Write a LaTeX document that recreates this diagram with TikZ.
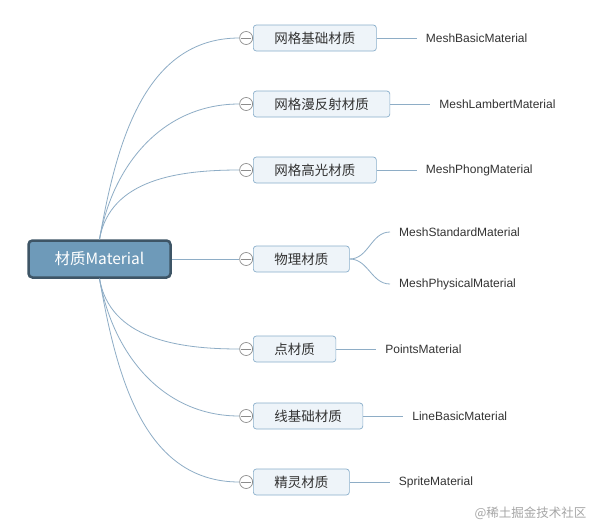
\documentclass[tikz,border=0pt]{standalone}
\usepackage{fontspec}
\setmainfont{Liberation Sans}
\newfontfamily\cjk{Noto Sans CJK SC}
\usepackage{tikz}
\usetikzlibrary{positioning}
\definecolor{mroot}{HTML}{6E9AB9}
\definecolor{mrootline}{HTML}{3E5566}
\definecolor{mbox}{HTML}{EEF4F9}
\definecolor{mboxline}{HTML}{8AAFCB}
\definecolor{mline}{HTML}{8EADC6}
\definecolor{mfold}{HTML}{8C8C8C}
\definecolor{mtext}{HTML}{333333}
\tikzset{
  rootbox/.style={draw=mrootline, fill=mroot, line width=2.5pt, rounded corners=4pt,
                  text=white, font=\cjk\fontsize{15.5}{18}\selectfont,
                  minimum width=142pt, minimum height=37pt},
  matbox/.style={draw=mboxline, fill=mbox, rounded corners=3pt, line width=0.7pt,
                 text=mtext, font=\cjk\fontsize{13.5}{16}\selectfont,
                 minimum height=26pt, inner xsep=21pt, inner ysep=0pt, anchor=west},
  fold/.style={circle, draw=mfold, fill=white, minimum size=13pt, inner sep=0pt, line width=0.7pt,
               path picture={\draw[mfold, line width=0.7pt]
                 ([xshift=1.5pt]path picture bounding box.west) --
                 ([xshift=-1.5pt]path picture bounding box.east);}},
  leaf/.style={anchor=west, inner xsep=9pt, inner ysep=1pt, text=mtext,
               font=\fontsize{12}{14}\selectfont},
  link/.style={mline, line width=0.8pt},
}
\begin{document}
\begin{tikzpicture}[x=1pt, y=1pt]

  %% Canvas
  \fill[white] (0,0) rectangle (590,-523);
  \useasboundingbox (0,0) rectangle (590,-523);

  %% Root
  \node[rootbox] (root) at (99.5,-259) {材质Material};

  %% Materials with fold circles
  \foreach \i/\y/\t in {1/38/网格基础材质, 2/104/网格漫反射材质, 3/170/网格高光材质,
                        4/259/物理材质, 5/349/点材质, 6/416/线基础材质, 7/482/精灵材质}{
    \node[matbox] (b\i) at (253,-\y) {\t};
    \node[fold, left=0pt of b\i] (c\i) {};
  }

  %% Root -> materials
  \foreach \i in {1,2,3}{
    \draw[link] (root.north) to[out=80, in=180] (c\i.west);
  }
  \draw[link] (root.east) -- (c4.west);
  \foreach \i in {5,6,7}{
    \draw[link] (root.south) to[out=-80, in=180] (c\i.west);
  }

  %% Three.js class names
  \node[leaf, right=40pt of b1] (l1) {MeshBasicMaterial};
  \node[leaf, right=40pt of b2] (l2) {MeshLambertMaterial};
  \node[leaf, right=40pt of b3] (l3) {MeshPhongMaterial};
  \node[leaf] (l4a) at (390,-232) {MeshStandardMaterial};
  \node[leaf] (l4b) at (390,-284) {MeshPhysicalMaterial};
  \node[leaf, right=40pt of b5] (l5) {PointsMaterial};
  \node[leaf, right=40pt of b6] (l6) {LineBasicMaterial};
  \node[leaf, right=40pt of b7] (l7) {SpriteMaterial};

  \foreach \i in {1,2,3,5,6,7}{
    \draw[link] (b\i.east) -- (l\i.west);
  }
  \draw[link] (b4.east) to[out=0, in=180] (l4a.west);
  \draw[link] (b4.east) to[out=0, in=180] (l4b.west);

  %% Watermark
  \node[anchor=east, text=black!35, font=\cjk\fontsize{12.5}{14}\selectfont] (mark) at (590,-513) {@稀土掘金技术社区};

\end{tikzpicture}
\end{document}
